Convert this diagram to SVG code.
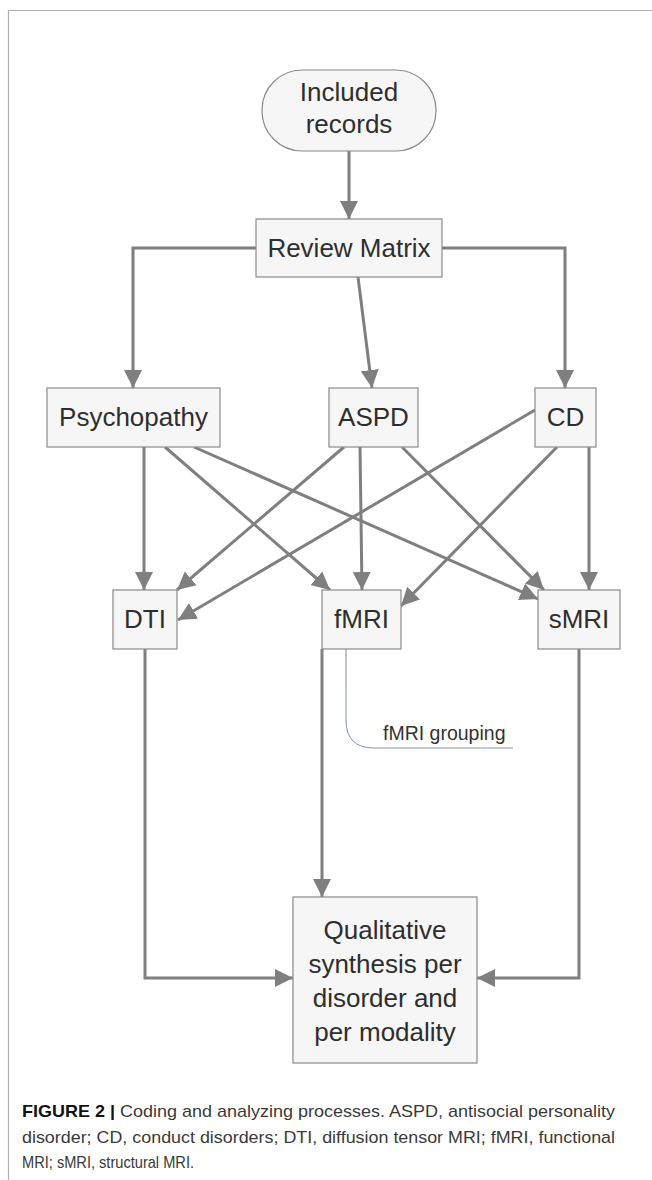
<svg xmlns="http://www.w3.org/2000/svg" width="652" height="1180" viewBox="0 0 652 1180">
<style>
.box{fill:#f6f6f6;stroke:#8a8a8a;stroke-width:1.2}
.lbl{font-family:"Liberation Sans",Arial,sans-serif;font-size:26px;fill:#2e2e2e;text-anchor:middle}
.edge{fill:none;stroke:#7f7f7f;stroke-width:3}
.cap{font-family:"Liberation Sans",Arial,sans-serif;font-size:17px;fill:#3a3a3a}
</style>
<defs>
<marker id="ah" markerUnits="userSpaceOnUse" markerWidth="20" markerHeight="20" viewBox="0 0 20 20" refX="18" refY="10" orient="auto">
<path d="M0,1 L18,10 L0,19 Z" fill="#7f7f7f"/>
</marker>
</defs>
<rect width="652" height="1180" fill="#ffffff"/>
<path d="M8.5,1180 V10.5 H652" fill="none" stroke="#b0b0b0" stroke-width="1.2"/>

<g id="connectors">
<path class="edge" d="M349,151 V219" marker-end="url(#ah)"/>
<path class="edge" d="M256,248 H133 V388" marker-end="url(#ah)"/>
<path class="edge" d="M442,248 H565 V388" marker-end="url(#ah)"/>
<path class="edge" d="M358,277 L372,388" marker-end="url(#ah)"/>
<path class="edge" d="M144,447 V590" marker-end="url(#ah)"/>
<path class="edge" d="M165,447 L330,590" marker-end="url(#ah)"/>
<path class="edge" d="M194,447 L538,599" marker-end="url(#ah)"/>
<path class="edge" d="M344,447 L177,590" marker-end="url(#ah)"/>
<path class="edge" d="M360,447 L362,590" marker-end="url(#ah)"/>
<path class="edge" d="M402,447 L544,590" marker-end="url(#ah)"/>
<path class="edge" d="M535,410 L178,620" marker-end="url(#ah)"/>
<path class="edge" d="M557,447 L401,606" marker-end="url(#ah)"/>
<path class="edge" d="M589,447 V590" marker-end="url(#ah)"/>
<path class="edge" d="M145,649 V978 H293" marker-end="url(#ah)"/>
<path class="edge" d="M322,649 V897" marker-end="url(#ah)"/>
<path class="edge" d="M579,649 V978 H477" marker-end="url(#ah)"/>
</g>

<g id="fmri-grouping">
<path d="M346,649 V690" fill="none" stroke="#8a8a8a" stroke-width="1"/>
<path d="M346,690 V720 Q346,748 374,748 H513" fill="none" stroke="#8096b0" stroke-width="1"/>
<text x="383" y="740" font-family="'Liberation Sans',Arial,sans-serif" font-size="19.5" fill="#333">fMRI grouping</text>
</g>

<g id="included-records">
<rect class="box" x="262" y="70" width="174" height="81" rx="40" ry="40"/>
<text class="lbl" x="349" y="101">Included</text>
<text class="lbl" x="349" y="133">records</text>
</g>
<g id="review-matrix">
<rect class="box" x="256" y="219" width="186" height="58"/>
<text class="lbl" x="349" y="257">Review Matrix</text>
</g>
<g id="psychopathy">
<rect class="box" x="47" y="388" width="173" height="59"/>
<text class="lbl" x="133.5" y="426">Psychopathy</text>
</g>
<g id="aspd">
<rect class="box" x="329" y="388" width="89" height="59"/>
<text class="lbl" x="373.5" y="426">ASPD</text>
</g>
<g id="cd">
<rect class="box" x="535" y="388" width="61" height="59"/>
<text class="lbl" x="565.5" y="426">CD</text>
</g>
<g id="dti">
<rect class="box" x="113" y="590" width="64" height="59"/>
<text class="lbl" x="145" y="628">DTI</text>
</g>
<g id="fmri">
<rect class="box" x="322" y="590" width="79" height="59"/>
<text class="lbl" x="361.5" y="628">fMRI</text>
</g>
<g id="smri">
<rect class="box" x="538" y="590" width="82" height="59"/>
<text class="lbl" x="579" y="628">sMRI</text>
</g>
<g id="qualitative">
<rect class="box" x="293" y="897" width="184" height="166"/>
<text class="lbl" x="385" y="939">Qualitative</text>
<text class="lbl" x="385" y="973">synthesis per</text>
<text class="lbl" x="385" y="1007">disorder and</text>
<text class="lbl" x="385" y="1041">per modality</text>
</g>

<g id="caption">
<text class="cap" x="22" y="1117" textLength="593" lengthAdjust="spacingAndGlyphs"><tspan font-weight="bold" fill="#111">FIGURE 2 |</tspan> Coding and analyzing processes. ASPD, antisocial personality</text>
<text class="cap" x="22" y="1143" textLength="593" lengthAdjust="spacingAndGlyphs">disorder; CD, conduct disorders; DTI, diffusion tensor MRI; fMRI, functional</text>
<text class="cap" x="22" y="1168" textLength="172" lengthAdjust="spacingAndGlyphs">MRI; sMRI, structural MRI.</text>
</g>
</svg>
